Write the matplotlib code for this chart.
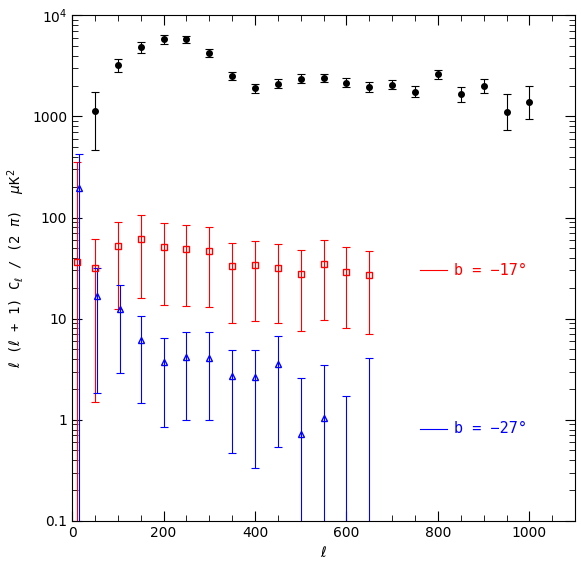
import matplotlib
matplotlib.use("Agg")
import matplotlib.pyplot as plt
import numpy as np
from matplotlib.ticker import FixedLocator, LogLocator, NullFormatter

# black series
ell_k = [50, 100, 150, 200, 250, 300, 350, 400, 450, 500, 550, 600, 650, 700, 750, 800, 850, 900, 950, 1000]
val_k = [1130, 3200, 4800, 5800, 5800, 4200, 2500, 1900, 2100, 2350, 2400, 2150, 1950, 2050, 1750, 2600, 1650, 2000, 1100, 1400]
hi_k = [1750, 3700, 5400, 6400, 6300, 4600, 2750, 2100, 2350, 2600, 2650, 2400, 2200, 2300, 2000, 2900, 1950, 2350, 1650, 2000]
lo_k = [470, 2750, 4250, 5250, 5350, 3850, 2300, 1700, 1900, 2150, 2200, 1950, 1750, 1850, 1550, 2350, 1400, 1700, 730, 940]

# b = -17 (red)
ell_r = [10, 50, 100, 150, 200, 250, 300, 350, 400, 450, 500, 550, 600, 650]
val_r = [36, 32, 52, 61, 51, 49, 47, 33, 34, 32, 27.5, 35, 29, 27]
hi_r = [355, 62, 91, 105, 89, 85, 81, 56, 59, 55, 48, 60, 51, 47]
lo_r = [0.01, 1.5, 12.6, 16, 13.8, 13.4, 13, 9.1, 9.5, 9.1, 7.5, 9.8, 8, 7]

# b = -27 (blue)
ell_b = [15, 55, 105, 150, 200, 250, 300, 350, 400, 450, 500, 550, 600, 650]
val_b = [194, 16.8, 12.6, 6.2, 3.7, 4.2, 4.1, 2.7, 2.65, 3.6, 0.73, 1.05, 0.05, 0.05]
hi_b = [420, 32, 21.6, 10.7, 6.5, 7.3, 7.3, 4.9, 4.9, 6.8, 2.6, 3.5, 1.7, 4.1]
lo_b = [0.01, 1.85, 2.9, 1.47, 0.85, 1.0, 1.0, 0.47, 0.33, 0.54, 0.01, 0.01, 0.01, 0.01]

plt.rcParams['font.family'] = ['DejaVu Sans Mono', 'DejaVu Sans']

fig = plt.figure(figsize=(5.81, 5.65), dpi=100)
ax = fig.add_axes([0.124, 0.078, 0.866, 0.895])


def errs(v, lo, hi):
    v = np.array(v); return [v - np.array(lo), np.array(hi) - v]


ax.errorbar(ell_k, val_k, yerr=errs(val_k, lo_k, hi_k), fmt='o', color='black', ms=4,
            elinewidth=0.8, capsize=3, capthick=0.8)
ax.errorbar(ell_r, val_r, yerr=errs(val_r, lo_r, hi_r), fmt='s', color='red', ms=4, mfc='none',
            elinewidth=0.8, capsize=3, capthick=0.8)
ax.errorbar(ell_b, val_b, yerr=errs(val_b, lo_b, hi_b), fmt='^', color='blue', ms=4, mfc='none',
            elinewidth=0.8, capsize=3, capthick=0.8)

ax.set_yscale('log')
ax.set_xlim(0, 1100)
ax.set_ylim(0.1, 1e4)
ax.set_yticks([0.1, 1, 10, 100, 1000, 1e4])
ax.set_yticklabels(['0.1', '1', '10', '100', '1000', '10$^4$'])
ax.yaxis.set_minor_locator(LogLocator(subs=np.arange(2, 10)))
ax.yaxis.set_minor_formatter(NullFormatter())
ax.set_xticks([0, 200, 400, 600, 800, 1000])
ax.xaxis.set_minor_locator(FixedLocator(np.arange(0, 1101, 50)))
ax.tick_params(which='both', direction='in', top=True, right=True)
ax.tick_params(which='major', length=7)
ax.tick_params(which='minor', length=4)
for lab in ax.get_xticklabels() + ax.get_yticklabels():
    lab.set_family('DejaVu Sans')

ax.set_xlabel(r'$\ell$')
ax.set_ylabel(r'$\ell$ ($\ell$ + 1) C$_\ell$ / (2 $\pi$)  $\mu$K$^2$')

# legend-like labels
ax.plot([760, 820], [30, 30], color='red', lw=0.8)
ax.text(835, 30, 'b = \u221217\u00b0', color='red', va='center', fontsize=11)
ax.plot([760, 820], [0.82, 0.82], color='blue', lw=0.8)
ax.text(835, 0.82, 'b = \u221227\u00b0', color='blue', va='center', fontsize=11)

fig.savefig('out.png', dpi=100)
